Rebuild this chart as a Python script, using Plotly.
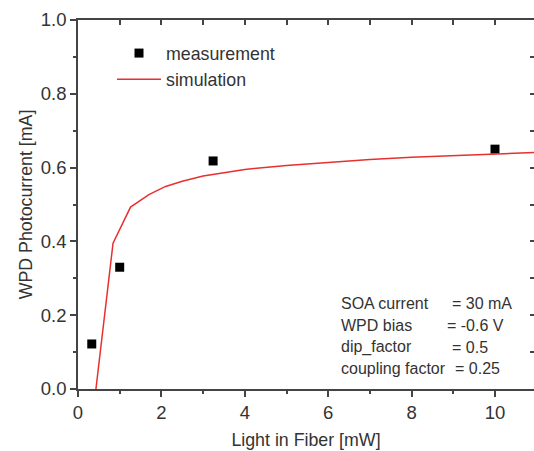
import plotly.graph_objects as go

# measurement data
meas_x = [0.33, 1.0, 3.24, 10.0]
meas_y = [0.122, 0.33, 0.618, 0.65]

# simulation curve
sim_x = [0.43, 0.84, 1.26, 1.7, 2.1, 2.5, 3.0, 3.5, 4.0, 5.0, 6.0, 7.0, 8.0, 9.0, 10.0, 11.0]
sim_y = [0.0, 0.395, 0.493, 0.527, 0.549, 0.563, 0.577, 0.587, 0.595, 0.606, 0.615, 0.622, 0.628, 0.632, 0.636, 0.641]

param_labels = ["SOA current", "WPD bias", "dip_factor", "coupling factor"]
param_values = ["= 30 mA", "= -0.6 V", "= 0.5", "= 0.25"]

FONT = "Arial, Liberation Sans, sans-serif"
TXT = "#333333"
AX = "#444444"

fig = go.Figure()
fig.add_trace(go.Scatter(x=meas_x, y=meas_y, mode="markers", name="measurement",
                         marker=dict(symbol="square", size=9, color="black")))
fig.add_trace(go.Scatter(x=sim_x, y=sim_y, mode="lines", name="simulation",
                         line=dict(color="#e8302e", width=1.5)))
# helper traces so the mirrored tick axes are drawn
fig.add_trace(go.Scatter(x=[None], y=[None], xaxis="x2", yaxis="y", showlegend=False, hoverinfo="skip"))
fig.add_trace(go.Scatter(x=[None], y=[None], xaxis="x", yaxis="y2", showlegend=False, hoverinfo="skip"))

W, H = 534, 451
L, T, B, R = 78, 20, 62, 0
pw = W - L - R
ph = H - T - B
xr = [0, pw / 41.7]

def px2x(px):
    return (px - L) / pw

def py2y(py):
    return 1 - (py - T) / ph

label_x = [339, 339, 339, 339]
value_x = [450, 445, 450, 453]
row_y = [303, 325, 347, 368]
annotations = []
for i in range(4):
    annotations.append(dict(xref="paper", yref="paper", x=px2x(label_x[i]), y=py2y(row_y[i]),
                            xanchor="left", yanchor="middle", text=param_labels[i], showarrow=False,
                            font=dict(family=FONT, size=16, color=TXT)))
    annotations.append(dict(xref="paper", yref="paper", x=px2x(value_x[i]), y=py2y(row_y[i]),
                            xanchor="left", yanchor="middle", text=param_values[i], showarrow=False,
                            font=dict(family=FONT, size=16, color=TXT)))

fig.update_layout(
    width=W, height=H,
    margin=dict(l=L, r=R, t=T, b=B, pad=0),
    paper_bgcolor="white", plot_bgcolor="white",
    font=dict(family=FONT, color=TXT),
    showlegend=True,
    legend=dict(x=px2x(112), y=py2y(35), xanchor="left", yanchor="top",
                bgcolor="rgba(0,0,0,0)", font=dict(family=FONT, size=17.8, color=TXT),
                itemwidth=44),
    xaxis=dict(range=xr, dtick=2, tick0=0, ticks="outside", ticklen=6, tickwidth=1.5,
               tickcolor=AX, showline=True, linecolor=AX, linewidth=1.5, mirror=True,
               showgrid=False, zeroline=False,
               minor=dict(dtick=1, ticks="outside", ticklen=3, tickwidth=1.5, tickcolor=AX),
               tickfont=dict(family=FONT, size=18.5, color=TXT),
               title=dict(text="Light in Fiber [mW]", font=dict(family=FONT, size=17.8, color=TXT), standoff=12)),
    yaxis=dict(range=[0, 1], dtick=0.2, tick0=0, tickformat=".1f", ticks="outside", ticklen=6,
               tickwidth=1.5, tickcolor=AX, showline=True, linecolor=AX, linewidth=1.5,
               showgrid=False, zeroline=False,
               minor=dict(dtick=0.1, ticks="outside", ticklen=3, tickwidth=1.5, tickcolor=AX),
               tickfont=dict(family=FONT, size=18.5, color=TXT),
               title=dict(text="WPD Photocurrent [mA]", font=dict(family=FONT, size=17.8, color=TXT), standoff=4)),
    xaxis2=dict(overlaying="x", side="top", anchor="y", matches="x", range=xr, dtick=1, tick0=0,
                ticks="inside", ticklen=5, tickwidth=1.5, tickcolor=AX, showticklabels=False,
                showgrid=False, zeroline=False, showline=False),
    yaxis2=dict(overlaying="y", side="right", anchor="x", matches="y", range=[0, 1], dtick=0.1, tick0=0,
                ticks="inside", ticklen=4, tickwidth=1.5, tickcolor=AX, showticklabels=False,
                showgrid=False, zeroline=False, showline=False),
    annotations=annotations,
)

fig.write_html("out.html")
